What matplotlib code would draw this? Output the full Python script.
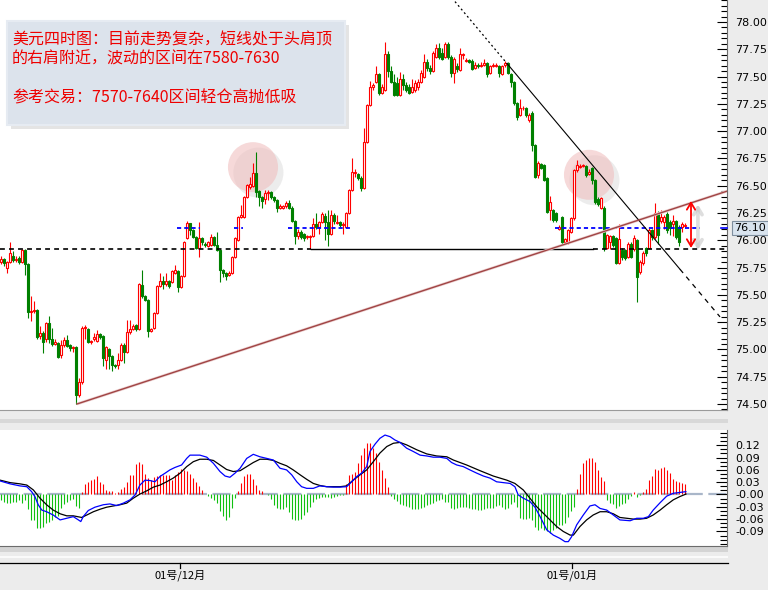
import matplotlib
matplotlib.use('Agg')
import numpy as np
import matplotlib.pyplot as plt
import matplotlib.transforms as mtransforms
from matplotlib.patches import Rectangle, Ellipse
from matplotlib.lines import Line2D
from matplotlib.ticker import MultipleLocator, FixedLocator, FixedFormatter, FormatStrFormatter

plt.rcParams['font.family'] = ['Noto Sans CJK SC', 'DejaVu Sans']
plt.rcParams['lines.scale_dashes'] = False

# ---------------- data (4H candles, index 0..228) ----------------
opens = [
    75.80, 75.83, 75.75, 75.80, 75.86, 75.82, 75.84, 75.80, 75.91, 75.78,
    75.34, 75.35, 75.36, 75.12, 75.15, 75.10, 75.24, 75.10, 75.05, 75.06,
    74.95, 75.04, 75.09, 75.04, 75.01, 75.02, 74.58, 74.70, 75.20, 75.19,
    75.07, 75.10, 75.08, 75.14, 75.12, 74.90, 75.00, 74.94, 74.86, 74.86,
    74.90, 75.04, 74.98, 75.16, 75.19, 75.22, 75.19, 75.59, 75.49, 75.45,
    75.17, 75.20, 75.33, 75.58, 75.63, 75.60, 75.63, 75.62, 75.70, 75.72,
    75.57, 75.67, 76.02, 76.16, 76.09, 76.03, 75.93, 76.02, 75.97, 75.95,
    75.96, 76.03, 75.96, 75.91, 75.73, 75.70, 75.68, 75.70, 75.85, 76.00,
    76.21, 76.21, 76.40, 76.49, 76.50, 76.62, 76.45, 76.40, 76.38, 76.43,
    76.44, 76.40, 76.37, 76.30, 76.30, 76.31, 76.34, 76.30, 76.18, 76.04,
    76.08, 76.06, 76.03, 76.03, 76.04, 76.15, 76.12, 76.17, 76.22, 76.17,
    76.06, 76.23, 76.16, 76.17, 76.14, 76.12, 76.25, 76.46, 76.62, 76.61,
    76.57, 76.48, 76.90, 77.24, 77.40, 77.45, 77.52, 77.35, 77.38, 77.71,
    77.55, 77.45, 77.44, 77.33, 77.48, 77.42, 77.40, 77.36, 77.38, 77.40,
    77.45, 77.50, 77.63, 77.58, 77.55, 77.68, 77.76, 77.72, 77.68, 77.80,
    77.68, 77.53, 77.60, 77.56, 77.70, 77.64, 77.65, 77.64, 77.58, 77.61,
    77.60, 77.61, 77.62, 77.53, 77.60, 77.60, 77.60, 77.52, 77.61, 77.62,
    77.52, 77.45, 77.26, 77.15, 77.21, 77.21, 77.10, 77.17, 76.87, 76.60,
    76.70, 76.69, 76.57, 76.28, 76.28, 76.25, 76.10, 76.21, 75.98, 75.98,
    76.08, 76.20, 76.64, 76.67, 76.68, 76.68, 76.61, 76.66, 76.55, 76.38,
    76.30, 76.30, 75.93, 75.98, 76.04, 76.02, 75.79, 75.91, 75.91, 75.85,
    75.97, 75.92, 76.00, 75.71, 75.79, 75.93, 75.93, 76.09, 76.03, 76.25,
    76.18, 76.17, 76.24, 76.17, 76.15, 76.18, 76.12, 76.12, 76.13,
]
closes = [
    75.83, 75.79, 75.80, 75.88, 75.82, 75.83, 75.80, 75.91, 75.78, 75.34,
    75.35, 75.36, 75.11, 75.15, 75.07, 75.24, 75.10, 75.05, 75.07, 74.93,
    75.04, 75.09, 75.03, 75.01, 75.02, 74.58, 74.70, 75.20, 75.20, 75.07,
    75.08, 75.11, 75.14, 75.11, 74.92, 75.02, 74.94, 74.86, 74.85, 74.90,
    75.04, 74.98, 75.16, 75.19, 75.21, 75.19, 75.60, 75.49, 75.45, 75.17,
    75.19, 75.33, 75.58, 75.63, 75.60, 75.63, 75.58, 75.72, 75.73, 75.57,
    75.67, 75.98, 76.16, 76.09, 76.03, 75.93, 76.02, 75.98, 75.96, 75.98,
    76.03, 75.96, 75.91, 75.73, 75.70, 75.67, 75.70, 75.85, 76.02, 76.21,
    76.23, 76.40, 76.51, 76.52, 76.62, 76.44, 76.40, 76.36, 76.43, 76.44,
    76.40, 76.37, 76.30, 76.31, 76.31, 76.34, 76.30, 76.18, 76.04, 76.08,
    76.03, 76.02, 76.04, 76.04, 76.15, 76.12, 76.17, 76.24, 76.17, 76.06,
    76.23, 76.18, 76.17, 76.14, 76.15, 76.25, 76.46, 76.63, 76.62, 76.57,
    76.48, 76.90, 77.24, 77.40, 77.42, 77.52, 77.35, 77.40, 77.71, 77.55,
    77.45, 77.33, 77.33, 77.48, 77.42, 77.38, 77.35, 77.40, 77.44, 77.45,
    77.53, 77.63, 77.58, 77.55, 77.72, 77.76, 77.68, 77.66, 77.80, 77.68,
    77.53, 77.66, 77.57, 77.71, 77.70, 77.65, 77.63, 77.57, 77.61, 77.60,
    77.61, 77.62, 77.52, 77.60, 77.60, 77.61, 77.53, 77.60, 77.62, 77.53,
    77.45, 77.26, 77.13, 77.21, 77.21, 77.15, 77.15, 76.87, 76.58, 76.71,
    76.66, 76.55, 76.26, 76.35, 76.19, 76.19, 76.12, 75.98, 76.01, 76.09,
    76.20, 76.64, 76.69, 76.68, 76.69, 76.60, 76.63, 76.55, 76.35, 76.33,
    76.39, 75.93, 76.05, 76.04, 75.96, 75.79, 76.01, 75.85, 75.84, 75.97,
    75.85, 76.02, 75.66, 75.80, 75.88, 75.88, 76.09, 76.03, 76.25, 76.05,
    76.21, 76.21, 76.09, 76.11, 76.18, 76.03, 75.98, 76.15, 76.14,
]
highs = [
    75.86, 75.84, 75.81, 75.98, 75.90, 75.86, 75.86, 75.92, 75.92, 75.79,
    75.49, 75.44, 75.37, 75.21, 75.17, 75.25, 75.31, 75.20, 75.10, 75.07,
    75.09, 75.11, 75.13, 75.05, 75.03, 75.03, 74.74, 75.21, 75.22, 75.20,
    75.09, 75.15, 75.18, 75.15, 75.13, 75.03, 75.01, 74.95, 74.87, 74.97,
    75.06, 75.06, 75.27, 75.27, 75.23, 75.23, 75.61, 75.73, 75.50, 75.46,
    75.20, 75.34, 75.59, 75.70, 75.67, 75.70, 75.64, 75.73, 75.77, 75.73,
    75.68, 75.99, 76.18, 76.16, 76.10, 76.04, 76.17, 76.03, 75.98, 75.99,
    76.06, 76.04, 76.08, 75.92, 75.74, 75.71, 75.72, 75.86, 76.03, 76.22,
    76.32, 76.41, 76.52, 76.58, 76.71, 76.81, 76.46, 76.41, 76.46, 76.46,
    76.45, 76.41, 76.38, 76.33, 76.32, 76.36, 76.37, 76.31, 76.19, 76.10,
    76.09, 76.07, 76.05, 76.05, 76.20, 76.25, 76.18, 76.26, 76.25, 76.28,
    76.28, 76.25, 76.23, 76.18, 76.17, 76.26, 76.47, 76.75, 76.65, 76.62,
    76.59, 77.03, 77.25, 77.46, 77.44, 77.60, 77.53, 77.43, 77.82, 77.73,
    77.60, 77.52, 77.50, 77.54, 77.52, 77.45, 77.43, 77.48, 77.47, 77.48,
    77.56, 77.71, 77.66, 77.61, 77.73, 77.80, 77.81, 77.76, 77.82, 77.82,
    77.70, 77.68, 77.62, 77.76, 77.72, 77.67, 77.66, 77.66, 77.63, 77.62,
    77.63, 77.66, 77.63, 77.61, 77.62, 77.62, 77.61, 77.61, 77.64, 77.63,
    77.53, 77.46, 77.27, 77.29, 77.23, 77.22, 77.17, 77.18, 76.88, 76.73,
    76.71, 76.70, 76.58, 76.41, 76.29, 76.26, 76.14, 76.22, 76.02, 76.10,
    76.21, 76.65, 76.74, 76.70, 76.70, 76.69, 76.65, 76.67, 76.56, 76.40,
    76.40, 76.31, 76.06, 76.05, 76.05, 76.03, 76.15, 75.93, 75.92, 75.98,
    75.98, 76.05, 76.01, 75.82, 75.90, 75.94, 76.11, 76.10, 76.34, 76.27,
    76.28, 76.23, 76.26, 76.19, 76.23, 76.19, 76.14, 76.17, 76.16,
]
lows = [
    75.78, 75.76, 75.70, 75.79, 75.80, 75.80, 75.78, 75.79, 75.68, 75.29,
    75.26, 75.33, 75.10, 75.10, 74.97, 75.07, 75.06, 75.03, 75.04, 74.92,
    74.92, 75.02, 75.02, 74.99, 74.98, 74.50, 74.56, 74.68, 75.10, 75.06,
    75.05, 75.08, 75.07, 75.10, 74.85, 74.82, 74.82, 74.80, 74.83, 74.82,
    74.89, 74.88, 74.97, 75.14, 75.18, 75.17, 75.18, 75.47, 75.44, 75.11,
    75.16, 75.19, 75.32, 75.57, 75.55, 75.58, 75.56, 75.61, 75.69, 75.53,
    75.56, 75.66, 76.01, 76.05, 76.02, 75.92, 75.85, 75.96, 75.94, 75.94,
    75.95, 75.95, 75.90, 75.62, 75.66, 75.64, 75.67, 75.69, 75.84, 75.99,
    76.20, 76.20, 76.39, 76.47, 76.49, 76.40, 76.31, 76.30, 76.33, 76.37,
    76.38, 76.35, 76.26, 76.29, 76.29, 76.30, 76.29, 76.17, 75.97, 76.01,
    76.01, 75.99, 76.01, 75.92, 76.03, 76.10, 76.06, 76.16, 76.00, 75.95,
    76.05, 76.15, 76.15, 76.12, 76.06, 76.11, 76.24, 76.45, 76.58, 76.55,
    76.45, 76.47, 76.89, 77.23, 77.38, 77.44, 77.33, 77.34, 77.37, 77.50,
    77.44, 77.32, 77.32, 77.32, 77.38, 77.36, 77.34, 77.35, 77.36, 77.38,
    77.44, 77.49, 77.55, 77.52, 77.54, 77.67, 77.66, 77.65, 77.67, 77.66,
    77.50, 77.44, 77.54, 77.55, 77.66, 77.63, 77.62, 77.56, 77.57, 77.58,
    77.59, 77.60, 77.50, 77.52, 77.59, 77.59, 77.50, 77.51, 77.59, 77.52,
    77.40, 77.24, 77.10, 77.14, 77.19, 77.13, 77.08, 76.82, 76.57, 76.57,
    76.65, 76.54, 76.25, 76.19, 76.17, 76.17, 76.09, 75.97, 75.97, 75.97,
    76.07, 76.19, 76.63, 76.66, 76.67, 76.58, 76.60, 76.52, 76.33, 76.31,
    76.29, 75.90, 75.92, 75.92, 75.94, 75.78, 75.78, 75.82, 75.82, 75.84,
    75.84, 75.90, 75.43, 75.69, 75.77, 75.86, 75.92, 76.00, 76.01, 75.97,
    76.16, 76.10, 76.07, 76.05, 76.04, 76.01, 75.95, 76.08, 76.12,
]

# MACD histogram, one value per candle
macd_hist = [
    -0.013, -0.018, -0.020, -0.020, -0.018, -0.018, -0.014, -0.020, -0.014, -0.035,
    -0.062, -0.062, -0.082, -0.082, -0.080, -0.070, -0.066, -0.062, -0.055, -0.052,
    -0.032, -0.023, -0.018, -0.014, -0.010, -0.028, -0.032, 0.006, 0.026, 0.030,
    0.035, 0.037, 0.044, 0.030, 0.026, 0.010, 0.008, 0.008, 0.004, 0.006,
    0.014, 0.018, 0.030, 0.047, 0.047, 0.075, 0.080, 0.075, 0.050, 0.040,
    0.035, 0.042, 0.044, 0.048, 0.047, 0.047, 0.047, 0.035, 0.047, 0.055,
    0.063, 0.060, 0.058, 0.050, 0.040, 0.030, 0.020, 0.010, 0.002, -0.004,
    -0.008, -0.014, -0.020, -0.040, -0.052, -0.062, -0.056, -0.032, -0.008, 0.008,
    0.028, 0.044, 0.051, 0.050, 0.037, 0.022, 0.011, 0.008, 0.002, -0.002,
    -0.012, -0.026, -0.034, -0.036, -0.036, -0.031, -0.042, -0.060, -0.062, -0.062,
    -0.060, -0.050, -0.042, -0.031, -0.018, -0.012, -0.008, -0.005, -0.006, -0.006,
    -0.008, -0.005, -0.004, -0.002, -0.002, 0.026, 0.047, 0.050, 0.054, 0.076,
    0.096, 0.113, 0.125, 0.126, 0.113, 0.100, 0.080, 0.060, 0.040, 0.019,
    -0.003, -0.010, -0.016, -0.022, -0.026, -0.028, -0.031, -0.036, -0.036, -0.036,
    -0.034, -0.030, -0.026, -0.024, -0.020, -0.016, -0.014, -0.012, -0.018, -0.018,
    -0.034, -0.036, -0.032, -0.031, -0.031, -0.031, -0.034, -0.036, -0.036, -0.038,
    -0.038, -0.036, -0.034, -0.034, -0.034, -0.028, -0.026, -0.031, -0.036, -0.034,
    -0.024, -0.018, -0.030, -0.058, -0.060, -0.060, -0.058, -0.062, -0.080, -0.086,
    -0.082, -0.086, -0.090, -0.094, -0.086, -0.082, -0.074, -0.074, -0.070, -0.054,
    -0.040, -0.031, 0.014, 0.051, 0.076, 0.085, 0.088, 0.088, 0.080, 0.060,
    0.042, 0.034, -0.014, -0.020, -0.022, -0.034, -0.028, -0.024, -0.020, -0.010,
    -0.004, 0.006, -0.006, -0.002, 0.006, 0.014, 0.035, 0.045, 0.061, 0.060,
    0.064, 0.066, 0.060, 0.053, 0.039, 0.033, 0.031, 0.028, 0.025,
]

# MACD fast line (blue), vertices (x = candle index)
dif_x = [
    -0.3, 3.0, 6.3, 8.6, 10.2, 11.3, 12.4, 13.6, 15.2, 17.4,
    19.7, 21.9, 24.1, 25.8, 26.6, 27.4, 29.1, 31.3, 34.1, 36.3,
    38.6, 40.8, 43.0, 44.7, 46.3, 48.0, 49.7, 51.3, 53.0, 54.7,
    56.3, 58.0, 60.2, 61.9, 63.0, 66.3, 68.6, 70.8, 73.0, 74.7,
    76.3, 78.0, 79.7, 81.9, 84.1, 86.3, 88.6, 90.8, 93.0, 95.2,
    96.9, 98.6, 100.2, 101.9, 104.1, 106.3, 108.6, 110.8, 113.0, 115.2,
    116.9, 118.6, 120.2, 121.9, 123.0, 124.7, 126.3, 128.0, 129.7, 131.3,
    133.0, 135.2, 137.4, 139.7, 141.9, 144.1, 146.3, 148.6, 150.2, 151.9,
    154.1, 156.3, 158.6, 160.8, 163.0, 165.2, 167.4, 169.7, 171.3, 172.4,
    174.1, 176.3, 178.0, 179.7, 181.9, 184.1, 186.3, 188.0, 189.1, 190.2,
    191.9, 194.1, 196.3, 198.0, 199.7, 201.9, 204.1, 206.3, 209.7, 211.9,
    214.1, 215.8, 217.4, 219.7, 221.9, 224.1, 226.3, 228.3,
]
dif_y = [
    0.033, 0.026, 0.021, 0.019, 0.007, -0.005, -0.025, -0.038, -0.042, -0.050,
    -0.062, -0.058, -0.054, -0.062, -0.066, -0.054, -0.039, -0.031, -0.025, -0.023,
    -0.027, -0.021, -0.013, -0.001, 0.023, 0.035, 0.034, 0.031, 0.044, 0.052,
    0.060, 0.066, 0.072, 0.088, 0.096, 0.096, 0.091, 0.076, 0.056, 0.045,
    0.042, 0.052, 0.064, 0.088, 0.098, 0.092, 0.088, 0.084, 0.064, 0.060,
    0.048, 0.031, 0.019, 0.015, 0.015, 0.021, 0.019, 0.018, 0.018, 0.019,
    0.031, 0.044, 0.052, 0.068, 0.105, 0.123, 0.137, 0.145, 0.141, 0.133,
    0.127, 0.113, 0.105, 0.096, 0.094, 0.091, 0.091, 0.088, 0.078, 0.072,
    0.068, 0.060, 0.052, 0.045, 0.040, 0.031, 0.029, 0.027, 0.019, -0.001,
    -0.009, -0.017, -0.031, -0.054, -0.086, -0.099, -0.107, -0.115, -0.115, -0.103,
    -0.074, -0.050, -0.028, -0.025, -0.034, -0.038, -0.050, -0.062, -0.064, -0.058,
    -0.058, -0.054, -0.038, -0.020, -0.004, 0.003, 0.005, 0.007,
]
# MACD signal line (black)
dea_x = [
    -0.3, 3.0, 6.3, 8.6, 10.8, 13.0, 15.2, 17.4, 19.7, 21.9,
    24.1, 26.9, 28.6, 30.8, 33.0, 35.2, 37.4, 39.7, 41.9, 44.1,
    46.3, 48.6, 50.8, 53.0, 55.2, 57.4, 59.7, 61.9, 64.1, 66.3,
    68.6, 70.8, 73.0, 75.2, 77.4, 79.7, 81.9, 84.1, 86.3, 88.6,
    90.8, 93.0, 95.2, 97.4, 99.7, 101.9, 104.1, 106.3, 108.6, 110.8,
    113.0, 115.2, 117.4, 119.7, 121.9, 124.1, 126.3, 128.6, 130.8, 133.0,
    135.2, 138.6, 141.9, 145.2, 148.6, 150.8, 155.2, 159.7, 164.1, 168.6,
    171.3, 174.1, 176.3, 178.6, 181.9, 185.2, 187.4, 189.7, 190.8, 193.0,
    195.2, 197.4, 199.7, 201.9, 204.1, 206.3, 208.6, 210.8, 213.0, 215.2,
    217.4, 219.7, 221.9, 224.1, 226.3, 228.3,
]
dea_y = [
    0.035, 0.029, 0.026, 0.023, 0.011, -0.009, -0.025, -0.038, -0.047, -0.052,
    -0.052, -0.056, -0.050, -0.042, -0.036, -0.031, -0.028, -0.025, -0.021, -0.009,
    0.001, 0.009, 0.018, 0.023, 0.031, 0.040, 0.052, 0.068, 0.080, 0.086,
    0.086, 0.083, 0.072, 0.061, 0.056, 0.058, 0.068, 0.078, 0.086, 0.086,
    0.083, 0.076, 0.070, 0.060, 0.048, 0.037, 0.027, 0.022, 0.019, 0.019,
    0.019, 0.021, 0.035, 0.048, 0.060, 0.080, 0.101, 0.117, 0.125, 0.127,
    0.121, 0.109, 0.099, 0.094, 0.092, 0.084, 0.072, 0.058, 0.045, 0.035,
    0.027, 0.011, -0.009, -0.030, -0.054, -0.078, -0.090, -0.099, -0.099, -0.078,
    -0.062, -0.050, -0.042, -0.042, -0.047, -0.056, -0.058, -0.060, -0.060, -0.058,
    -0.050, -0.038, -0.025, -0.013, -0.005, 0.001,
]

price_ticks = [74.50, 74.75, 75.00, 75.25, 75.50, 75.75, 76.00, 76.25, 76.50,
               76.75, 77.00, 77.25, 77.50, 77.75, 78.00]
macd_ticks = [-0.09, -0.06, -0.03, 0.0, 0.03, 0.06, 0.09, 0.12]
macd_tick_labels = ['-0.09', '-0.06', '-0.03', '-0.00', '0.03', '0.06', '0.09', '0.12']
date_tick_idx = [59.7, 190.3]
date_labels = ['01号/12月', '01号/01月']
last_price_label = '76.10'

text_lines = ['美元四时图：目前走势复杂，短线处于头肩顶',
              '的右肩附近，波动的区间在7580-7630',
              '参考交易：7570-7640区间轻仓高抛低吸']

# annotation levels drawn on the chart
neckline = 75.92
mid_level = 76.11
up_trend = ([25.33, 242.0], [74.50, 76.45])
down_anchor = (168.67, 77.62)
down_slope = -0.0327

# ---------------- figure ----------------
W, H = 768, 590
fig = plt.figure(figsize=(W / 100, H / 100), dpi=100, facecolor='#ececec')


def fx(px):
    return px / W


def fy(py):
    return 1 - py / H


for (y0, y1, col) in [(419, 423, '#d8d8d8'), (547, 552, '#d4d4d4'), (556, 558, '#fafafa')]:
    fig.add_artist(Rectangle((0, fy(y1)), fx(728), (y1 - y0) / H, transform=fig.transFigure,
                             facecolor=col, edgecolor='none', zorder=-1))

# ---------------- main price axes ----------------
ax = fig.add_axes([0, fy(410), fx(727), 410 / H])
ax.set_facecolor('white')
ax.set_xlim(-1 / 3, 242)
ax.set_ylim(74.4449, 78.2016)
for s in ['top', 'left']:
    ax.spines[s].set_visible(False)
ax.spines['right'].set_color('#6c6c6c')
ax.spines['bottom'].set_color('#9a9a9a')
ax.yaxis.tick_right()
ax.yaxis.set_major_locator(FixedLocator(price_ticks))
ax.yaxis.set_major_formatter(FormatStrFormatter('%.2f'))
ax.yaxis.set_minor_locator(MultipleLocator(0.05))
ax.tick_params(axis='y', which='major', direction='in', length=7, width=0.8, pad=6,
               labelsize=8, labelfontfamily='DejaVu Sans')
ax.tick_params(axis='y', which='minor', direction='in', length=4, width=0.8)
ax.set_xticks([])

idx = np.arange(len(closes))
o = np.array(opens)
c = np.array(closes)
h = np.array(highs)
l = np.array(lows)
up = c >= o
dn = ~up

# circles (head / right shoulder)
for (cx, cy) in [(84.0, 76.67), (196.0, 76.60)]:
    ax.add_patch(Ellipse((cx + 1.8, cy - 0.05), 16.7, 0.458, facecolor='#c9c9c9',
                         edgecolor='none', alpha=0.35, zorder=1))
    ax.add_patch(Ellipse((cx, cy), 16.7, 0.458, facecolor='#f0c0c0',
                         edgecolor='none', alpha=0.6, zorder=1.5))

ax.vlines(idx[up], l[up], h[up], color='#ff0000', lw=0.8, zorder=3)
ax.vlines(idx[dn], l[dn], h[dn], color='#008000', lw=0.8, zorder=3)
ax.bar(idx[up], np.maximum((c - o)[up], 0.004), bottom=o[up], width=0.62,
       facecolor='white', edgecolor='#ff0000', linewidth=0.8, zorder=4)
ax.bar(idx[dn], np.maximum((o - c)[dn], 0.004), bottom=c[dn], width=0.62,
       facecolor='#008000', edgecolor='#008000', linewidth=0.8, zorder=4)

# neckline: dashed / solid / dashed
ax.plot([-0.4, 103.33], [neckline, neckline], color='black', lw=1.2, dashes=(3.5, 3), zorder=5)
ax.plot([103.33, 197.33], [neckline, neckline], color='black', lw=1.0, zorder=5)
ax.plot([197.33, 242], [neckline, neckline], color='black', lw=1.2, dashes=(3.5, 3), zorder=5)

# blue dashed level segments
for (a, b) in [(58.7, 66.3), (77.7, 80.7), (95.7, 116.7), (184.7, 233.0)]:
    ax.plot([a, b], [mid_level, mid_level], color='#0000ff', lw=1.3, dashes=(3, 2.2), zorder=5)

# up trend line
ax.plot(up_trend[0], up_trend[1], color='#ecd0d0', lw=2.0, zorder=6, solid_capstyle='butt')
ax.plot(up_trend[0], up_trend[1], color='#a04444', lw=1.0, zorder=6.5)


def down_line(x):
    return down_anchor[1] + down_slope * (x - down_anchor[0])


ax.plot([151.33, 168.67], [down_line(151.33), down_line(168.67)], color='black', lw=0.9,
        dashes=(1.4, 2.0), zorder=6)
ax.plot([168.67, 226.33], [down_line(168.67), down_line(226.33)], color='black', lw=0.8, zorder=6)
ax.plot([226.33, 239.67], [down_line(226.33), down_line(239.67)], color='black', lw=0.9,
        dashes=(3.5, 3.5), zorder=6)

# red double arrow with shadow
ax.annotate('', xy=(232.3, 76.33), xytext=(232.3, 75.91),
            arrowprops=dict(arrowstyle='<->,head_length=0.5,head_width=0.3', color='#c8c8c8',
                            lw=2.6, alpha=0.6, shrinkA=0, shrinkB=0), zorder=7)
ax.annotate('', xy=(230.0, 76.36), xytext=(230.0, 75.93),
            arrowprops=dict(arrowstyle='<->,head_length=0.5,head_width=0.3', color='#ff0000',
                            lw=1.3, shrinkA=0, shrinkB=0), zorder=8)

# ---------------- MACD axes ----------------
axm = fig.add_axes([0, fy(546), fx(727), 116 / H])
axm.set_facecolor('white')
axm.set_xlim(-1 / 3, 242)
axm.set_ylim(-0.1256, 0.1573)
for s in ['top', 'left']:
    axm.spines[s].set_visible(False)
axm.spines['right'].set_color('#6c6c6c')
axm.spines['bottom'].set_color('#6c6c6c')
axm.yaxis.tick_right()
axm.yaxis.set_major_locator(FixedLocator(macd_ticks))
axm.yaxis.set_major_formatter(FixedFormatter(macd_tick_labels))
axm.yaxis.set_minor_locator(MultipleLocator(0.01))
axm.tick_params(axis='y', which='major', direction='in', length=8, width=0.8, pad=6,
                labelsize=8, labelfontfamily='DejaVu Sans')
axm.tick_params(axis='y', which='minor', direction='in', length=5, width=0.8)
axm.set_xticks([])

axm.axhline(0, color='#a9b6c9', lw=1.6, dashes=(13, 4), zorder=1)
hist = np.array(macd_hist)
hcols = ['#ff0000' if v > 0 else '#10c010' for v in hist]
axm.vlines(idx, 0, hist, colors=hcols, lw=0.8, zorder=2)
axm.plot(dea_x, dea_y, color='black', lw=0.9, zorder=3)
axm.plot(dif_x, dif_y, color='#0000ff', lw=0.9, zorder=3)

# ---------------- time axis ----------------
fig.add_artist(Line2D([0, fx(728)], [fy(563), fy(563)], color='black', lw=0.9,
                      transform=fig.transFigure))
trans = mtransforms.blended_transform_factory(axm.transData, fig.transFigure)
for xi, lab in zip(date_tick_idx, date_labels):
    fig.add_artist(Line2D([xi, xi], [fy(563), fy(568)], color='black', lw=0.9, transform=trans))
    fig.text(xi, fy(575.5), lab, transform=trans, ha='center', va='center', fontsize=8,
             color='black')

# last price marker
fig.add_artist(Line2D([fx(721), fx(727)], [fy(228.5), fy(228.5)], color='#0000ff', lw=1.2,
                      transform=fig.transFigure))
fig.text(fx(734), fy(228.5), last_price_label, ha='left', va='center', fontsize=8,
         family='DejaVu Sans', color='black',
         bbox=dict(boxstyle='square,pad=0.18', facecolor='#d8e3ee', edgecolor='#7e8e9e', lw=0.8))

# ---------------- text box ----------------
fig.add_artist(Rectangle((fx(11), fy(129)), fx(338), 104 / H, transform=fig.transFigure,
                         facecolor='#d2d2d2', edgecolor='none', alpha=0.6, zorder=10))
fig.add_artist(Rectangle((fx(7), fy(125)), fx(338), 104 / H, transform=fig.transFigure,
                         facecolor='#dce3ec', edgecolor='#e6ebf2', lw=1.5, zorder=11))
for (txt, yy) in zip(text_lines, [40, 59.5, 98.5]):
    fig.text(fx(12), fy(yy), txt, ha='left', va='center', fontsize=11.5, color='#ee0000',
             zorder=12)

fig.savefig('out.png', dpi=100, facecolor=fig.get_facecolor())
